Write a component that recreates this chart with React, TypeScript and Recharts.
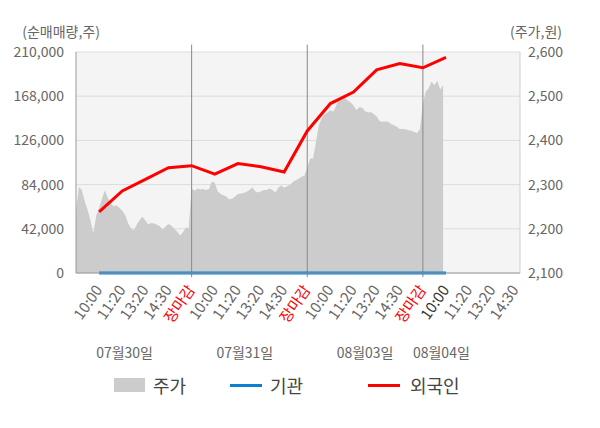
import {
  ComposedChart,
  Area,
  Line,
  XAxis,
  YAxis,
  CartesianGrid,
  ReferenceLine,
  Label
} from "recharts";

// x axis: 19 evenly spaced labels, 5 per trading day
const timeLabels = [
  "10:00", "11:20", "13:20", "14:30", "장마감",
  "10:00", "11:20", "13:20", "14:30", "장마감",
  "10:00", "11:20", "13:20", "14:30", "장마감",
  "10:00", "11:20", "13:20", "14:30"
];

const dateLabels = ["07월30일", "07월31일", "08월03일", "08월04일"];

// 외국인 / 기관 cumulative net buying, one value per label from the first 10:00
const foreignNet = [
  58000, 78000, 89000, 100000, 102000,
  94000, 104000, 101000, 96000, 135000,
  161000, 172000, 193000, 199000, 195000,
  205000
];
const instNet = [
  0, 0, 0, 0, 0,
  0, 0, 0, 0, 0,
  0, 0, 0, 0, 0,
  0
];

// 주가, intraday samples (8 per label interval)
const priceDay1 = [
  2239, 2295, 2288, 2263, 2243, 2219, 2190, 2230, 2247, 2268,
  2288, 2270, 2258, 2251, 2253, 2247, 2241, 2231, 2213, 2201,
  2197, 2209, 2220, 2227, 2219, 2210, 2213, 2212, 2209, 2206,
  2198, 2205, 2211, 2207, 2200, 2194, 2185, 2192, 2203, 2202
];
const priceDay2 = [
  2291, 2286, 2291, 2289, 2290, 2288, 2290, 2307, 2304, 2285,
  2279, 2276, 2273, 2267, 2268, 2273, 2278, 2280, 2281, 2284,
  2288, 2294, 2285, 2282, 2285, 2288, 2288, 2291, 2288, 2282,
  2293, 2298, 2293, 2296, 2299, 2306, 2310, 2313, 2318, 2320
];
const priceDay3 = [
  2338, 2359, 2359, 2395, 2434, 2450, 2459, 2463, 2468, 2465,
  2478, 2496, 2500, 2496, 2490, 2486, 2479, 2469, 2475, 2474,
  2466, 2463, 2464, 2460, 2454, 2444, 2442, 2443, 2442, 2437,
  2434, 2431, 2426, 2426, 2425, 2423, 2422, 2419, 2417, 2426
];
const priceDay4 = [2484, 2510, 2518, 2533, 2525, 2535, 2515, 2525];

const leftTicks = [0, 42000, 84000, 126000, 168000, 210000];
const rightTicks = [2100, 2200, 2300, 2400, 2500, 2600];

// layout
const SLOTS_PER_DAY = 5;
const SAMPLE_STEP = 1 / 8;
const dateSlots = [2.1, 7.3, 12.5, 15.8];
const FONT = "'Noto Sans CJK KR', 'Noto Sans', sans-serif";

function buildRows() {
  const rows = new Map<number, any>();
  const get = (slot: number) => {
    if (!rows.has(slot)) rows.set(slot, { slot });
    return rows.get(slot);
  };
  [priceDay1, priceDay2, priceDay3, priceDay4].forEach((day, d) => {
    day.forEach((p, k) => {
      get(d * SLOTS_PER_DAY + k * SAMPLE_STEP).price = p;
    });
  });
  foreignNet.forEach((v, i) => {
    get(i + 1).foreign = v;
    get(i + 1).inst = instNet[i];
  });
  return Array.from(rows.values()).sort((a, b) => a.slot - b.slot);
}

const rows = buildRows();

const fmt = (v: number) => v.toLocaleString("en-US");

function TimeTick(props: any) {
  const { x, y, payload } = props;
  const label = timeLabels[payload.value - 1];
  let color = "#666";
  if (label === "장마감") color = "#ff0000";
  if (payload.value === 16) color = "#333";
  const ax = x + 4;
  const ay = y + 9;
  return (
    <text
      x={ax}
      y={ay}
      transform={`rotate(-55, ${ax}, ${ay})`}
      textAnchor="end"
      fontSize={15}
      fontFamily={FONT}
      fill={color}
    >
      {label}
    </text>
  );
}

function DateTick(props: any) {
  const { x, y, index } = props;
  return (
    <text
      x={x}
      y={y + 17}
      textAnchor="middle"
      fontSize={14}
      fontFamily={FONT}
      fill="#666"
    >
      {dateLabels[index]}
    </text>
  );
}

function App() {
  const legendText = {
    position: "absolute" as const,
    top: 373,
    fontSize: 18,
    fontFamily: FONT,
    color: "#444",
    lineHeight: "24px"
  };

  return (
    <div style={{ position: "absolute", left: 0, top: 0, width: 600, height: 428 }}>
      <ComposedChart
        width={600}
        height={428}
        data={rows}
        margin={{ top: 52, right: 20, left: 16, bottom: 55 }}
      >
        <CartesianGrid
          yAxisId="left"
          vertical={false}
          stroke="#dcdcdc"
          fill="#f4f4f4"
        />

        <XAxis
          dataKey="slot"
          type="number"
          domain={[0, 19.2]}
          ticks={timeLabels.map((_, i) => i + 1)}
          interval={0}
          height={60}
          tick={<TimeTick />}
          tickLine={false}
          axisLine={{ stroke: "#999" }}
        />
        <XAxis
          xAxisId="date"
          dataKey="slot"
          type="number"
          domain={[0, 19.2]}
          ticks={dateSlots}
          interval={0}
          height={40}
          tick={<DateTick />}
          tickLine={false}
          axisLine={false}
        />

        <YAxis
          yAxisId="left"
          width={60}
          domain={[0, 210000]}
          ticks={leftTicks}
          tickFormatter={fmt}
          tickLine={false}
          tickMargin={6}
          axisLine={{ stroke: "#999" }}
          tick={{ fontSize: 14, fill: "#666", fontFamily: FONT }}
        >
          <Label
            content={(p: any) => (
              <text
                x={p.viewBox.x + p.viewBox.width + 24}
                y={p.viewBox.y - 15}
                textAnchor="end"
                fontSize={14}
                fontFamily={FONT}
                fill="#666"
              >
                (순매매량,주)
              </text>
            )}
          />
        </YAxis>
        <YAxis
          yAxisId="right"
          orientation="right"
          width={60}
          domain={[2100, 2600]}
          ticks={rightTicks}
          tickFormatter={fmt}
          tickLine={false}
          axisLine={{ stroke: "#d0d0d0" }}
          tick={{ fontSize: 14, fill: "#666", fontFamily: FONT }}
        >
          <Label
            content={(p: any) => (
              <text
                x={p.viewBox.x + 42}
                y={p.viewBox.y - 15}
                textAnchor="end"
                fontSize={14}
                fontFamily={FONT}
                fill="#666"
              >
                (주가,원)
              </text>
            )}
          />
        </YAxis>

        <Area
          yAxisId="right"
          dataKey="price"
          type="linear"
          stroke="none"
          fill="#cccccc"
          fillOpacity={1}
          connectNulls
          isAnimationActive={false}
          dot={false}
          activeDot={false}
        />

        {[5, 10, 15].map((s) => (
          <ReferenceLine
            key={s}
            yAxisId="left"
            segment={[
              { x: s, y: -4000 },
              { x: s, y: 217000 }
            ]}
            stroke="#888"
            ifOverflow="visible"
          />
        ))}

        <Line
          yAxisId="left"
          dataKey="inst"
          type="linear"
          stroke="#0e80d0"
          strokeWidth={3}
          dot={false}
          activeDot={false}
          connectNulls
          isAnimationActive={false}
        />
        <Line
          yAxisId="left"
          dataKey="foreign"
          type="linear"
          stroke="#ff0000"
          strokeWidth={3}
          dot={false}
          activeDot={false}
          connectNulls
          isAnimationActive={false}
        />
      </ComposedChart>

      {/* legend */}
      <div style={{ position: "absolute", left: 114, top: 378, width: 31, height: 14, background: "#cccccc" }} />
      <div style={{ ...legendText, left: 153 }}>주가</div>
      <div style={{ position: "absolute", left: 230, top: 384, width: 32, height: 3, background: "#0e80d0" }} />
      <div style={{ ...legendText, left: 270 }}>기관</div>
      <div style={{ position: "absolute", left: 368, top: 384, width: 32, height: 3, background: "#ff0000" }} />
      <div style={{ ...legendText, left: 410 }}>외국인</div>
    </div>
  );
}

export default App;
